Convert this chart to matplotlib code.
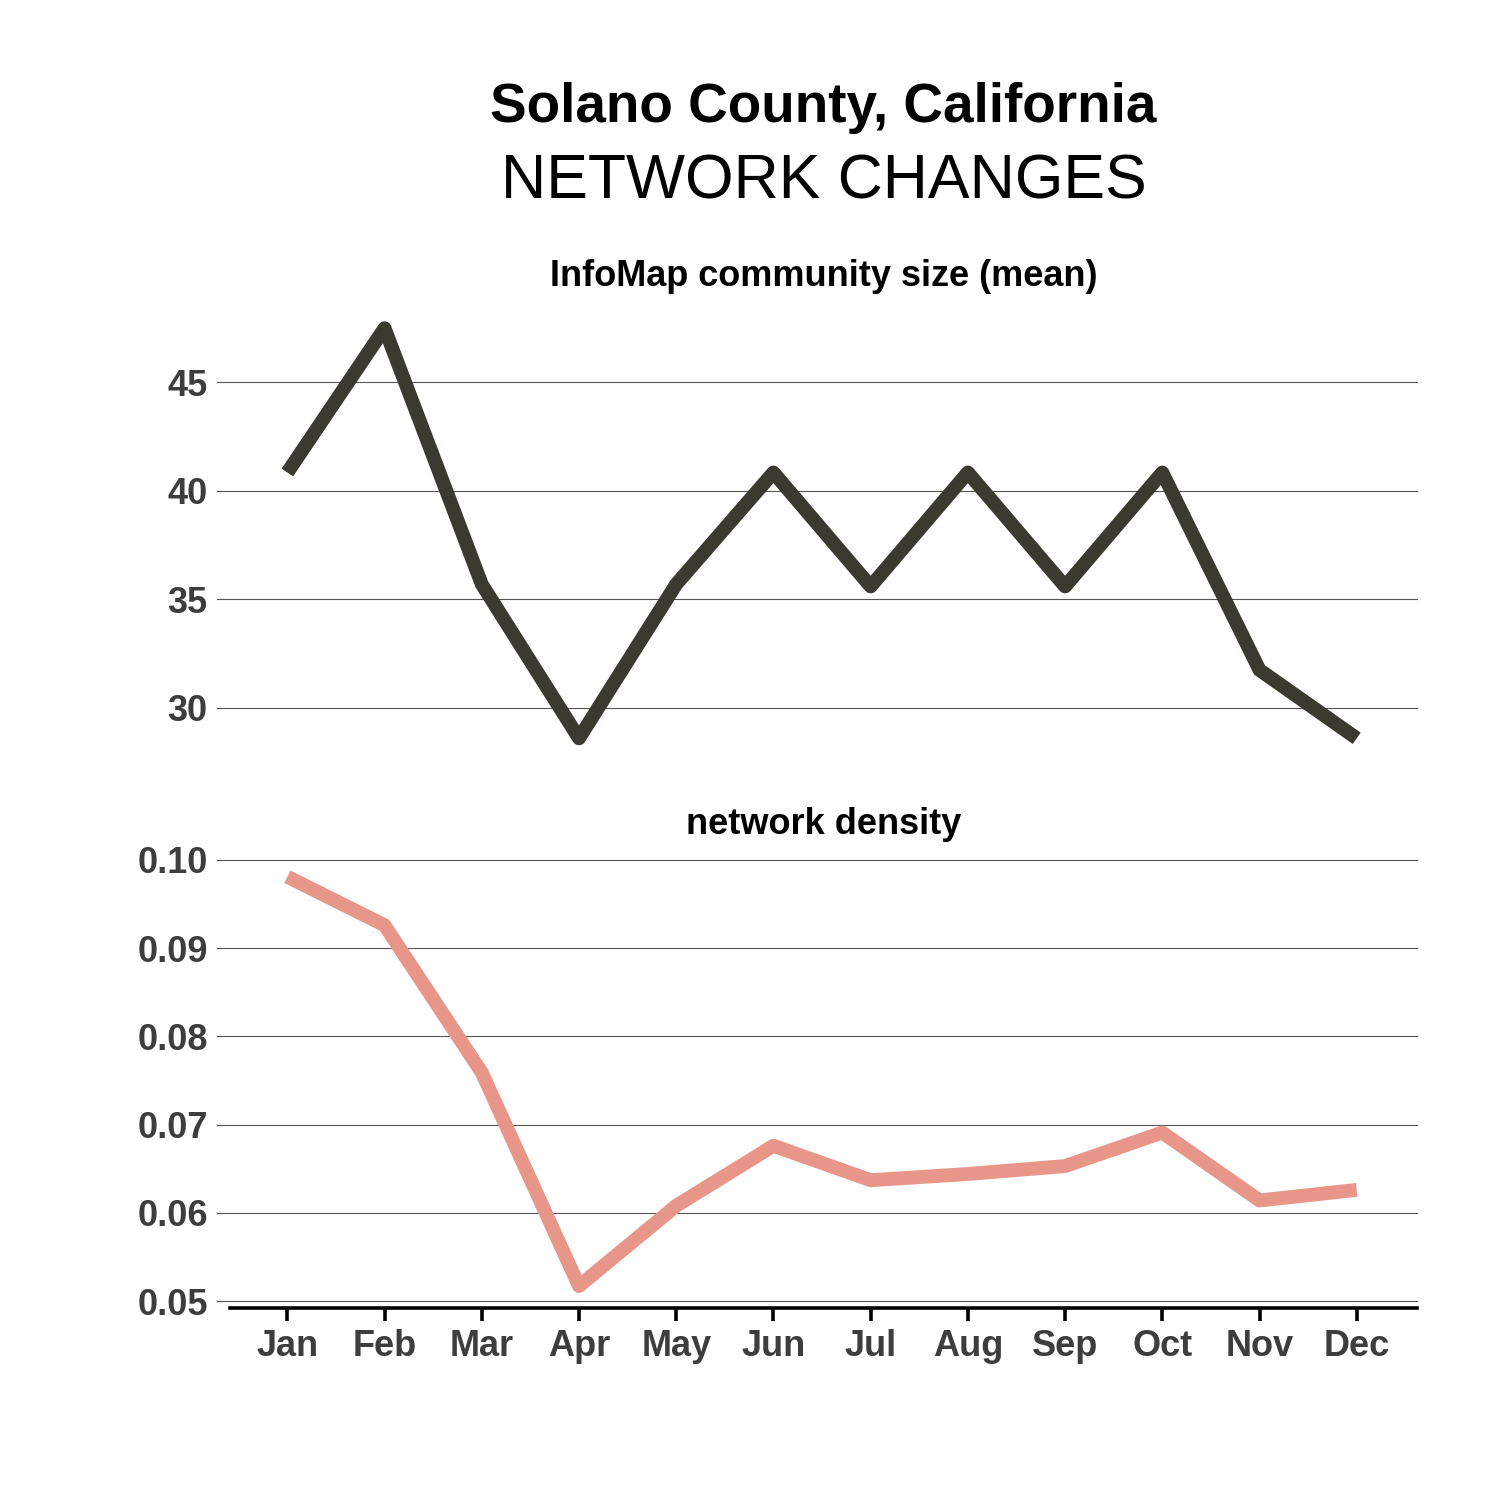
import matplotlib.pyplot as plt

plt.rcParams['font.family'] = ['Liberation Sans', 'DejaVu Sans']

months = ['Jan', 'Feb', 'Mar', 'Apr', 'May', 'Jun', 'Jul', 'Aug', 'Sep', 'Oct', 'Nov', 'Dec']
community_size = [40.85, 47.5, 35.7, 28.6, 35.7, 40.85, 35.6, 40.85, 35.6, 40.85, 31.75, 28.6]
density = [0.0981, 0.0926, 0.0759, 0.0517, 0.0608, 0.0676, 0.0637, 0.0644, 0.0653, 0.0691, 0.0614, 0.0626]

size_ticks = [30, 35, 40, 45]
density_ticks = [0.05, 0.06, 0.07, 0.08, 0.09, 0.10]

fig = plt.figure(figsize=(15, 15), dpi=100)
W = H = 1500.0
left, right = 230 / W, 1417 / W

ax1 = fig.add_axes([left, 1 - 755 / H, right - left, (755 - 310) / H])
ax2 = fig.add_axes([left, 1 - 1308 / H, right - left, (1308 - 850) / H])

x = list(range(len(months)))
label_color = '#3d3d3d'


def style(ax, ticks, fmt):
    for s in ax.spines.values():
        s.set_visible(False)
    ax.set_xlim(-0.59, 11.62)
    ax.set_yticks(ticks)
    ax.set_yticklabels([fmt.format(t) for t in ticks], fontsize=26, fontweight='bold',
                       color=label_color)
    ax.tick_params(axis='y', length=0, pad=16)
    for t in ticks:
        ax.axhline(t, xmin=-0.011, xmax=1, color='#555555', lw=0.8, clip_on=False, zorder=0)


ax1.plot(x, community_size, color='#3b3a31', lw=10, solid_joinstyle='round',
         solid_capstyle='butt')
ax1.set_ylim(27.83, 48.34)
style(ax1, size_ticks, '{:.0f}')
ax1.set_xticks([])

ax2.plot(x, density, color='#e8968a', lw=10, solid_joinstyle='round',
         solid_capstyle='butt')
ax2.set_ylim(0.04921, 0.10113)
style(ax2, density_ticks, '{:.2f}')
ax2.spines['bottom'].set_visible(True)
ax2.spines['bottom'].set_linewidth(2.6)
ax2.spines['bottom'].set_color('black')
ax2.set_xticks(x)
ax2.set_xticklabels(months, fontsize=26, fontweight='bold', color=label_color)
ax2.tick_params(axis='x', length=9, width=2.6, color='black', pad=6)

cx = (left + right) / 2
fig.text(cx, 1 - 108 / H, 'Solano County, California', ha='center', va='center',
         fontsize=39.5, fontweight='bold')
fig.text(cx, 1 - 182 / H, 'NETWORK CHANGES', ha='center', va='center', fontsize=45)
fig.text(cx, 1 - 276 / H, 'InfoMap community size (mean)', ha='center', va='center',
         fontsize=26, fontweight='bold')
fig.text(cx, 1 - 824 / H, 'network density', ha='center', va='center',
         fontsize=26, fontweight='bold')

fig.savefig('out.png', dpi=100, facecolor='white')
